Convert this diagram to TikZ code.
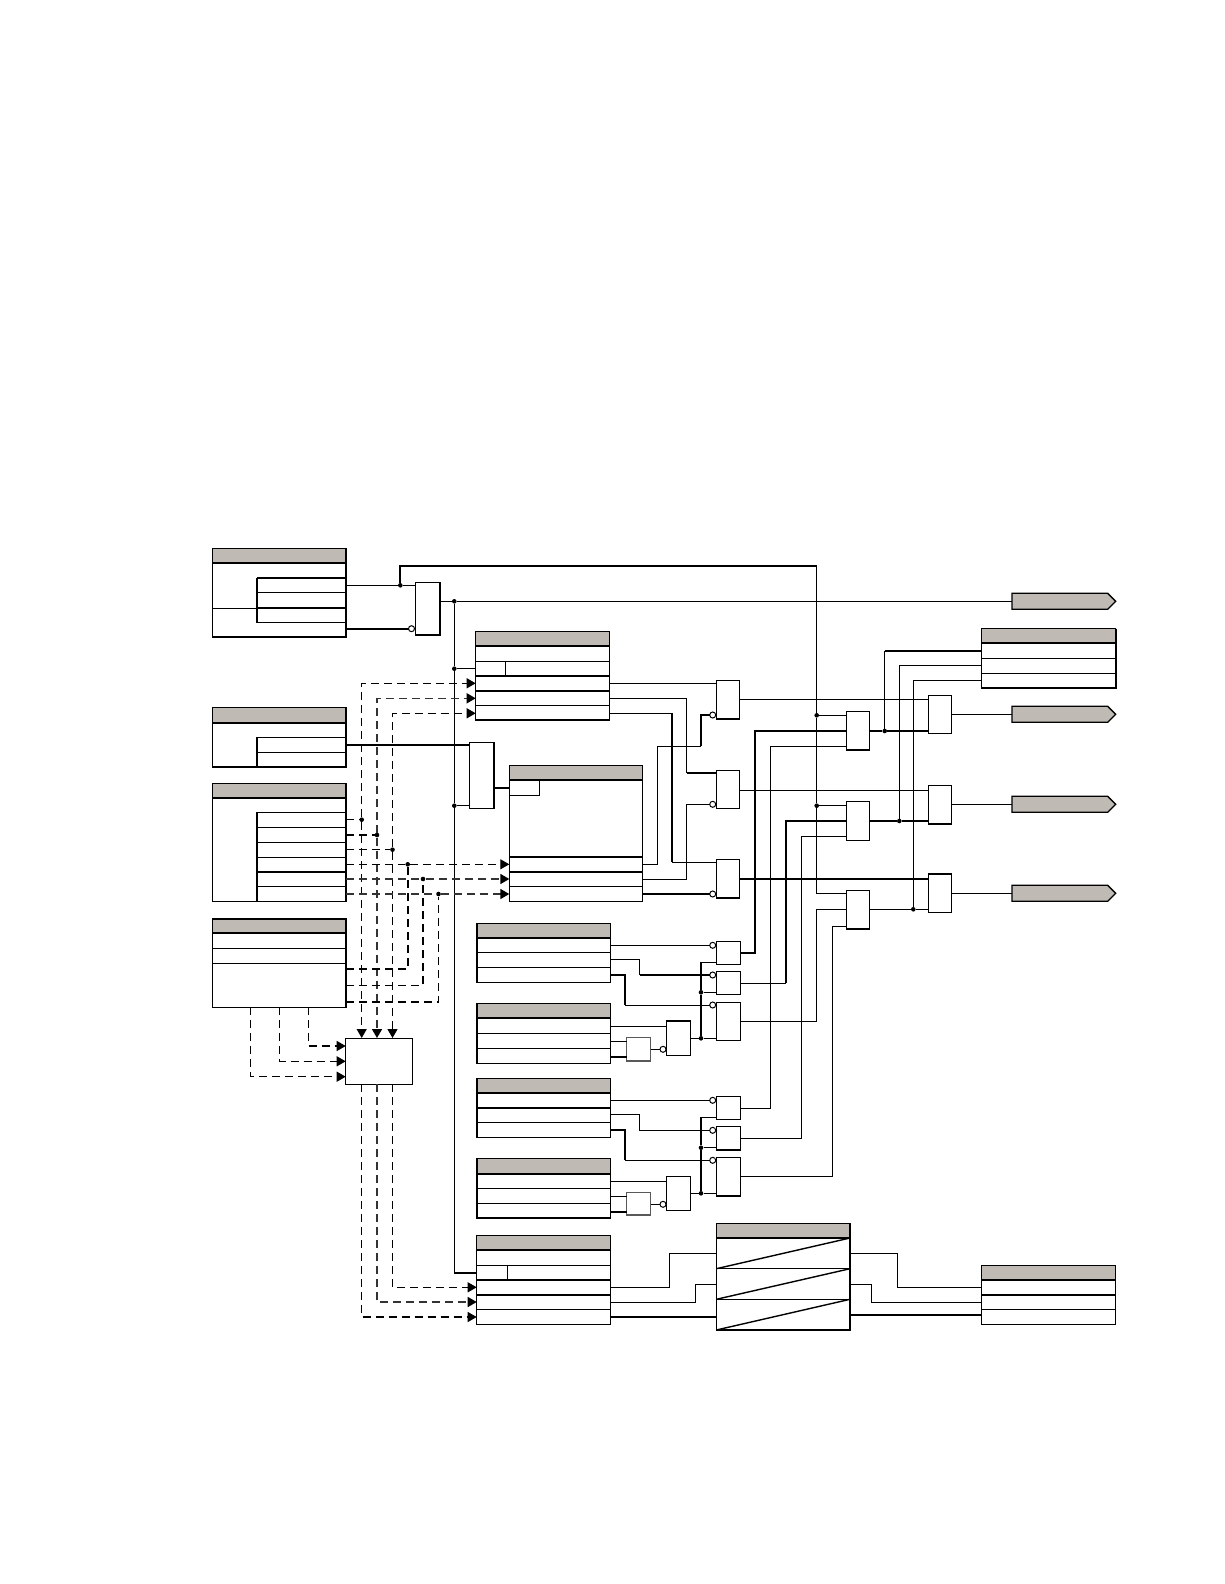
\documentclass[tikz,border=0pt]{standalone}
\usetikzlibrary{arrows.meta}
\definecolor{hdr}{HTML}{BFBAB3}
\tikzset{
  box/.style={draw=black,fill=white,line width=1pt,inner sep=0pt,outer sep=0pt,rectangle},
  tn/.style={line width=1pt,black},
  tk/.style={line width=2.1pt,black},
  dsh/.style={line width=1.2pt,black,dash pattern=on 8pt off 5pt},
  dshm/.style={line width=1.6pt,black!80,dash pattern=on 8pt off 5pt},
  dshk/.style={line width=2pt,black,dash pattern=on 8pt off 5pt},
  arr/.style={-{Triangle[length=9pt,width=10pt,color=black]}},
  dot/.style={circle,fill=black,inner sep=0pt,minimum size=4.6pt},
  bub/.style={circle,draw=black,fill=white,line width=1pt,inner sep=0pt,minimum size=6pt,outer sep=0pt},
}
\newcommand{\gate}[5]{%
  \pgfmathsetmacro{\gw}{#4-#2}\pgfmathsetmacro{\gh}{#5-#3}%
  \pgfmathsetmacro{\gx}{(#4+#2)/2}\pgfmathsetmacro{\gy}{(#5+#3)/2}%
  \node[box,minimum width=\gw pt,minimum height=\gh pt] (#1) at (\gx,\gy) {};}
% name x1 x2 ytop yhead ybot rows(y/width) rowstartx
\newcommand{\tbl}[8]{%
  \gate{#1}{#2}{#4}{#3}{#6}%
  \fill[hdr] (#2,#4) rectangle (#3,#5);%
  \draw[line width=2pt] (#2,#5) -- (#3,#5);%
  \foreach \ry/\rw in {#7}{\draw[line width=\rw pt] (#8,\ry) -- (#3,\ry);}%
  \draw[line width=1.3pt] (#1.north west) rectangle (#1.south east);}
\begin{document}
\begin{tikzpicture}[x=1pt,y=-1pt]
\useasboundingbox (0,0) rectangle (1224,1584);
\fill[white] (0,0) rectangle (1224,1584);

% ---- tables
\tbl{TA}{212.5}{346}{548.5}{563}{637}{577.5/2,592.5/1,608/2,622.5/1}{257}
\tbl{TB}{475.7}{609.3}{631.7}{646.3}{720}{646.3/1,661.3/1,675.7/2,691/2,705.3/1}{475.7}
\tbl{TC}{212.5}{346}{707.7}{722.7}{767}{737.3/1,752.3/1}{257}
\tbl{TD}{509.3}{642.7}{765.7}{780.3}{901.3}{856.7/2,871.7/2,886.3/1}{509.3}
\tbl{TE}{212.5}{346}{783.7}{798}{901.3}{812.3/1,827.3/1,842.3/1,857.3/1,871.7/2,886.3/1}{257}
\tbl{TF}{212.5}{346}{919}{933.3}{1007.3}{948.3/1,963.3/1}{212.5}
\tbl{TG}{476.7}{610.3}{923.7}{938}{982.3}{952.7/1,967.3/1}{476.7}
\tbl{TH}{476.7}{610.3}{1003.7}{1018.3}{1063.3}{1033.3/1,1048.3/1}{476.7}
\tbl{TI}{476.7}{610.3}{1078.3}{1093}{1137.3}{1108/2,1122.7/1}{476.7}
\tbl{TJ}{476.7}{610.3}{1158.7}{1173.7}{1218}{1188.3/1,1203.3/1}{476.7}
\tbl{TK}{476.7}{610.3}{1235.7}{1250.3}{1324.3}{1265.3/1,1279.7/2,1295/2,1309.3/1}{476.7}
\tbl{TL}{716.3}{850}{1223.3}{1238}{1330}{1268.7/1.5,1299.3/1.5}{716.3}
\tbl{TM}{981.3}{1115.7}{1265.7}{1279.7}{1324.3}{1295/2,1309.3/1}{981.3}
\tbl{TN}{981.3}{1115.7}{628.7}{643.3}{688}{658.3/1,673.3/1}{981.3}
% table inner rules and heavier sides
\draw[line width=1.6pt] (257,577.5) -- (257,622.5);
\draw[tn] (TA.west|-0,608) -- (257,608);
\draw[line width=1.6pt] (257,737.3) -- (257,767);
\draw[line width=1.6pt] (257,812.3) -- (257,901.3);
\draw[tn] (505.3,661.3) -- (505.3,675.7);
\draw[tn] (509.3,795.3) -- (539.3,795.3) -- (539.3,780.3);
\draw[line width=1.5pt] (507.3,1265.3) -- (507.3,1279.7);
\draw[line width=1.4pt] (716.3,1268.7) -- (850,1238);
\draw[line width=1.4pt] (716.3,1299.3) -- (850,1268.7);
\draw[line width=1.4pt] (716.3,1330) -- (850,1299.3);
\draw[line width=2pt] (TA.north east) -- (TA.south east);
\draw[line width=2pt] (TN.north east) -- (TN.south east) -- (TN.south west);
\draw[line width=2pt] (TG.north west) -- (TG.south west);
\draw[line width=2pt] (TH.north west) -- (TH.south west);
\draw[line width=2pt] (TI.north west) -- (TI.south west);
\draw[line width=2pt] (TJ.north west) -- (TJ.south west);

% ---- gates
\gate{G1}{415.3}{582.5}{440}{635}
\gate{G2}{469.3}{742.3}{494}{808.3}
\gate{H1}{716.3}{680.3}{739.7}{719}
\gate{H2}{716.3}{770.3}{739.7}{808.3}
\gate{H3}{716.3}{859.3}{739.7}{897.7}
\gate{S1}{846.3}{711.3}{869.7}{750}
\gate{S2}{846.3}{801.3}{869.7}{840.3}
\gate{S3}{846.3}{890.3}{869.7}{929}
\gate{R1}{928.3}{695.3}{951.7}{733.3}
\gate{R2}{928.3}{785.3}{951.7}{823.7}
\gate{R3}{928.3}{873.7}{951.7}{912.3}
\gate{J1}{716.3}{941.3}{740.7}{964.3}
\gate{J2}{716.3}{971.3}{740.7}{994.3}
\gate{J3}{716.3}{1002.3}{740.7}{1040.3}
\gate{K1}{666.7}{1020.7}{690.7}{1055.7}
\gate{M1}{626.7}{1037.7}{650.7}{1061}
\gate{L1}{716.3}{1096.3}{740.7}{1119.3}
\gate{L2}{716.3}{1126}{740.7}{1150}
\gate{L3}{716.3}{1157.3}{740.7}{1196}
\gate{K2}{666.7}{1176.3}{690.7}{1210.3}
\gate{M2}{626.7}{1192.3}{650.7}{1215}
\gate{NN}{345.7}{1038}{412}{1084}
% thick gate sides
\draw[tk] (G1.south west) -- (G1.south east) -- (G1.north east);
\draw[tk] (G2.south east) -- (G2.north east);
\draw[tk] (H1.south west) -- (H1.south east);
\draw[tk] (H3.south west) -- (H3.south east);
\draw[tk] (S1.south west) -- (S1.south east);
\draw[tk] (S3.south west) -- (S3.south east);
\draw[tk] (R2.south west) -- (R2.south east);
\draw[tk] (R3.north west) -- (R3.north east);
\draw[tk] (K1.north west) -- (K1.north east);
\draw[tk] (L2.south west) -- (L2.south east);
\draw[tk] (L3.south west) -- (L3.south east);
\draw[line width=1.5pt,black!65] (M1.north west) rectangle (M1.south east);
\draw[line width=1.5pt,black!65] (M2.north west) rectangle (M2.south east);

% ---- pentagons
\foreach \pn/\py in {P0/601.3,P1/714.3,P2/804.3,P3/893.3}{
  \coordinate (\pn) at (1012,\py);
  \draw[line width=1.3pt,fill=hdr] (1012,\py-8) -- (1107.7,\py-8) -- (1115.7,\py) -- (1107.7,\py+8) -- (1012,\py+8) -- cycle;
}

% ---- bubbles
\node[bub] (bG1) at (411.5,628.7) {};
\node[bub] (bH1) at (712.7,715) {};
\node[bub] (bH2) at (712.7,804.3) {};
\node[bub] (bH3) at (712.7,894) {};
\node[bub] (bJ1) at (712.7,945.3) {};
\node[bub] (bJ2) at (712.7,975) {};
\node[bub] (bJ3) at (712.7,1005) {};
\node[bub] (bK1) at (663,1049.3) {};
\node[bub] (bL1) at (712.7,1100.3) {};
\node[bub] (bL2) at (712.7,1130.3) {};
\node[bub] (bL3) at (712.7,1160.3) {};
\node[bub] (bK2) at (663,1204.3) {};

% ---- junctions
\node[dot] (dTop) at (400.3,585.3) {};
\node[dot] (dO1) at (454.3,601.3) {};
\node[dot] (dO2) at (454.3,668.7) {};
\node[dot] (dO3) at (454.3,805.7) {};
\node[dot] (da) at (361.7,819.7) {};
\node[dot] (db) at (377,835) {};
\node[dot] (dc) at (392.5,849.7) {};
\node[dot] (dd) at (407.7,864.3) {};
\node[dot] (de) at (423,879) {};
\node[dot] (df) at (438.5,894) {};
\node[dot] (dS1) at (816.7,715.3) {};
\node[dot] (dS2) at (816.7,805.7) {};
\node[dot] (dR1) at (884.7,731) {};
\node[dot] (dR2) at (899.3,821) {};
\node[dot] (dR3) at (913.3,909.3) {};
\node[dot] (dJ) at (701,992.3) {};
\node[dot] (dK1) at (701,1038.3) {};
\node[dot] (dL) at (701,1147.7) {};
\node[dot] (dK2) at (701,1193.3) {};

% ---- top section
\draw[tn] (TA.east|-dTop) -- (dTop) -- (G1.west|-dTop);
\draw[tk] (TA.east|-bG1) -- (bG1);
\draw[tk] (dTop) -- (400.3,565.7) -- (816.7,565.7);
\draw[tn] (816.7,565.7) -- (dS1) -- (dS2) -- (816.7,893.3) -- (S3.west|-0,893.3);
\draw[tn] (G1.east|-dO1) -- (dO1) -- (P0);
\draw[tn] (dO1) -- (dO2) -- (dO3) -- (454.3,1272.7);
\draw[tk] (454.3,1272.7) -- (TK.west|-0,1272.7);
\draw[tn] (dO2) -- (TB.west|-dO2);
\draw[tn] (dO3) -- (G2.west|-dO3);
\draw[tk] (TC.east|-0,745) -- (G2.west|-0,745);
\draw[tk] (G2.east|-0,787.7) -- (TD.west|-0,787.7);

% ---- dashed bus
\draw[dsh] (TE.east|-da) -- (da);
\draw[dshk] (TE.east|-db) -- (db);
\draw[dsh] (TE.east|-dc) -- (dc);
\draw[dsh,arr] (da) |- (TB.west|-0,683.3);
\draw[dshm,arr] (db) |- (TB.west|-0,698.3);
\draw[dsh,arr] (dc) |- (TB.west|-0,713.3);
\draw[dsh,arr] (da) -- (da|-NN.north);
\draw[dshm,arr] (db) -- (db|-NN.north);
\draw[dsh,arr] (dc) -- (dc|-NN.north);
\draw[dsh] (TE.east|-dd) -- (dd);
\draw[dshm] (TE.east|-de) -- (de);
\draw[dshm] (TE.east|-df) -- (df);
\draw[dsh,arr] (dd) -- (TD.west|-dd);
\draw[dshm,arr] (de) -- (TD.west|-de);
\draw[dshm,arr] (df) -- (TD.west|-df);
\draw[dshk] (TF.east|-0,969) -| (dd);
\draw[dsh] (TF.east|-0,985.3) -| (de);
\draw[dsh] (TF.east|-0,1002) -| (df);
\draw[dsh,arr] (250.7,1007.3) |- (NN.west|-0,1076.7);
\draw[dsh,arr] (279.5,1007.3) |- (NN.west|-0,1061.3);
\draw[dsh,arr] (308.3,1007.3) |- (NN.west|-0,1046);
\draw[dsh,arr] (dc|-NN.south) |- (TK.west|-0,1287.3);
\draw[dshm,arr] (db|-NN.south) |- (TK.west|-0,1302);
\draw[dsh,arr] (da|-NN.south) |- (TK.west|-0,1317);

% ---- TB, TD to H gates
\draw[tn] (TB.east|-0,683.3) -- (H1.west|-0,683.3);
\draw[tn] (TB.east|-0,698.3) -- (686.7,698.3) -- (686.7,773);
\draw[tk] (686.7,773) -- (H2.west|-0,773);
\draw[tn] (TB.east|-0,713.3) -- (672,713.3);
\draw[tk] (672,713.3) -- (672,862.3);
\draw[tn] (672,862.3) -- (H3.west|-0,862.3);
\draw[tn] (TD.east|-0,864.3) -- (657.3,864.3) -- (657.3,746.3) -- (700.7,746.3);
\draw[tk] (700.7,746.3) -- (700.7,715) -- (bH1);
\draw[tn] (TD.east|-0,879) -- (686.7,879) -- (686.7,804.3) -- (bH2);
\draw[tk] (TD.east|-0,894) -- (bH3);

% ---- H to R
\draw[tn] (H1.east|-0,699.3) -- (R1.west|-0,699.3);
\draw[tn] (H2.east|-0,790.3) -- (R2.west|-0,790.3);
\draw[tk] (H3.east|-0,879) -- (R3.west|-0,879);
\draw[tn] (R1.east|-P1) -- (P1);
\draw[tn] (R2.east|-P2) -- (P2);
\draw[tn] (R3.east|-P3) -- (P3);

% ---- S gates
\draw[tn] (dS1) -- (S1.west|-dS1);
\draw[tn] (dS2) -- (S2.west|-dS2);
\draw[tk] (S1.east|-dR1) -- (dR1) -- (R1.west|-dR1);
\draw[tk] (S2.east|-dR2) -- (dR2) -- (R2.west|-dR2);
\draw[tn] (S3.east|-dR3) -- (dR3) -- (R3.west|-dR3);
\draw[tn] (dR1) -- (884.7,650.7);
\draw[tk] (884.7,650.7) -- (TN.west|-0,650.7);
\draw[tn] (dR2) |- (TN.west|-0,665.3);
\draw[tn] (dR3) |- (TN.west|-0,680.3);

% ---- J gates to S
\draw[tk] (J1.east|-0,953) -- (755,953) -- (755,731) -- (S1.west|-0,731);
\draw[tn] (J2.east|-0,983.3) -- (786,983.3);
\draw[tk] (786,983.3) -- (786,821) -- (S2.west|-0,821);
\draw[tn] (J3.east|-0,1021.3) -- (816.7,1021.3) -- (816.7,909.3) -- (S3.west|-0,909.3);
\draw[tn] (L1.east|-0,1108.3) -| (770.3,746.7) -- (S1.west|-0,746.7);
\draw[tn] (L2.east|-0,1138.3) -| (801.3,836.3) -- (S2.west|-0,836.3);
\draw[tn] (L3.east|-0,1176.3) -| (832.3,926.3) -- (S3.west|-0,926.3);

% ---- TG / TH
\draw[tn] (TG.east|-bJ1) -- (bJ1);
\draw[tn] (TG.east|-0,959.3) -- (639.7,959.3) -- (639.7,975);
\draw[tk] (639.7,975) -- (bJ2);
\draw[tk] (TG.east|-0,974.7) -- (625,974.7) -- (625,1005);
\draw[tn] (625,1005) -- (bJ3);
\draw[tn] (TH.east|-0,1026.3) -- (K1.west|-0,1026.3);
\draw[tn] (TH.east|-0,1041.3) -- (M1.west|-0,1041.3);
\draw[tk] (TH.east|-0,1056.7) -- (M1.west|-0,1056.7);
\draw[tn] (M1.east|-bK1) -- (bK1);
\draw[tn] (K1.east|-dK1) -- (dK1) -- (J3.west|-dK1);
\draw[tn] (J1.west|-0,962.3) -- (701,962.3);
\draw[tk] (701,962.3) -- (dJ) -- (dK1);
\draw[tn] (dJ) -- (J2.west|-dJ);

% ---- TI / TJ
\draw[tn] (TI.east|-bL1) -- (bL1);
\draw[tn] (TI.east|-0,1114.3) -- (639.7,1114.3) -- (639.7,1130.3) -- (bL2);
\draw[tk] (TI.east|-0,1130) -- (625,1130) -- (625,1160.3);
\draw[tn] (625,1160.3) -- (bL3);
\draw[tn] (TJ.east|-0,1181.3) -- (K2.west|-0,1181.3);
\draw[tn] (TJ.east|-0,1196.3) -- (M2.west|-0,1196.3);
\draw[tk] (TJ.east|-0,1211.7) -- (M2.west|-0,1211.7);
\draw[tn] (M2.east|-bK2) -- (bK2);
\draw[tn] (K2.east|-dK2) -- (dK2) -- (L3.west|-dK2);
\draw[tn] (L1.west|-0,1117.3) -- (701,1117.3);
\draw[tk] (701,1117.3) -- (dL) -- (dK2);
\draw[tn] (dL) -- (L2.west|-dL);

% ---- bottom
\draw[tn] (TK.east|-0,1287.3) -- (669.6,1287.3);
\draw[line width=1.5pt] (669.6,1287.3) -- (669.6,1253.3);
\draw[tn] (669.6,1253.3) -- (TL.west|-0,1253.3);
\draw[tn] (TK.east|-0,1302.3) -- (695.6,1302.3) -- (695.6,1284.3) -- (TL.west|-0,1284.3);
\draw[tk] (TK.east|-0,1317) -- (TL.west|-0,1317);
\draw[tn] (TL.east|-0,1253.3) -- (897,1253.3) -- (897,1287.3) -- (TM.west|-0,1287.3);
\draw[tn] (TL.east|-0,1284.3) -- (871.8,1284.3) -- (871.8,1302.3) -- (TM.west|-0,1302.3);
\draw[tk] (TL.east|-0,1315) -- (TM.west|-0,1315);
\end{tikzpicture}
\end{document}
